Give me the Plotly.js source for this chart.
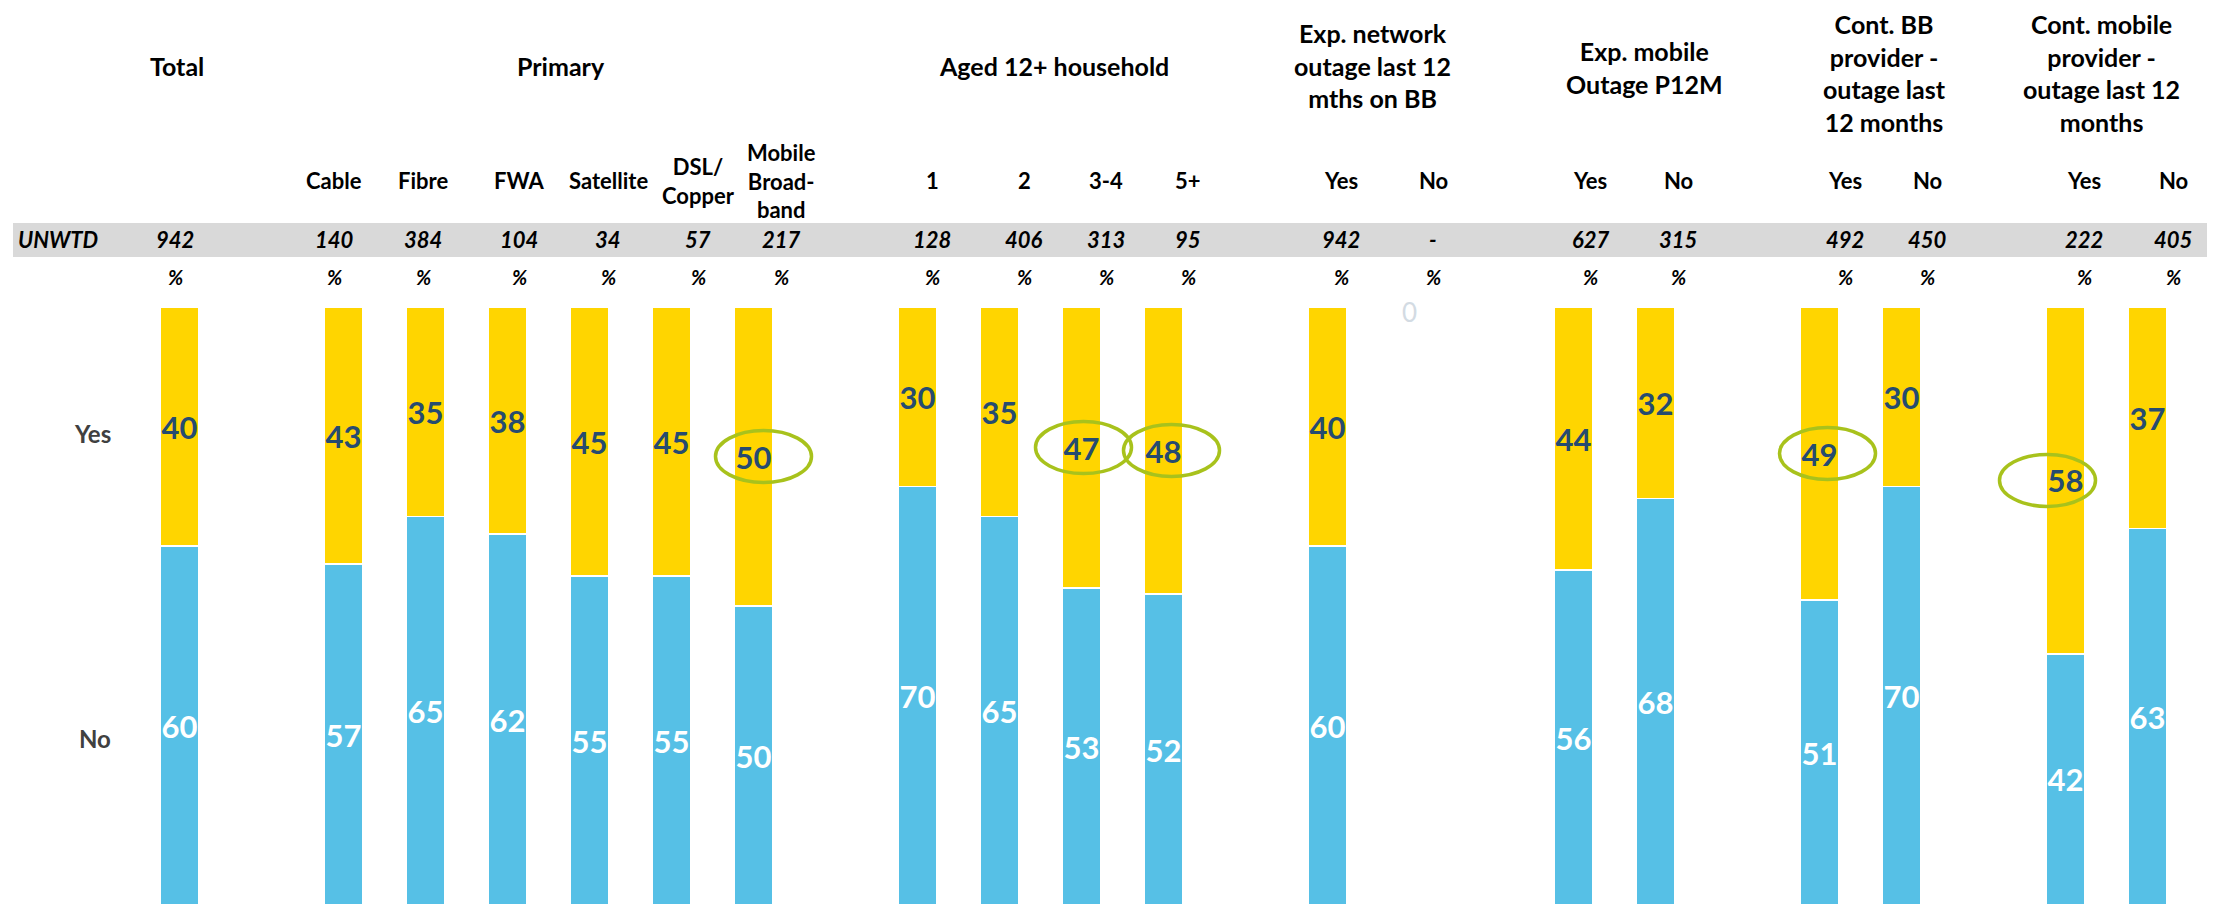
<!DOCTYPE html>
<html>
<head>
<meta charset="utf-8">
<script src="https://cdn.plot.ly/plotly-3.0.1.min.js"></script>
<style>html,body{margin:0;padding:0;background:#fff;}#chart{width:2216px;height:905px;}</style>
</head>
<body>
<div id="chart"></div>
<script>
// ---------------- DATA ----------------
const groupTitles = [
  "Total",
  "Primary",
  "Aged 12+ household",
  "Exp. network<br>outage last 12<br>mths on BB",
  "Exp. mobile<br>Outage P12M",
  "Cont. BB<br>provider -<br>outage last<br>12 months",
  "Cont. mobile<br>provider -<br>outage last 12<br>months"
];
const categories = ["", "Cable", "Fibre", "FWA", "Satellite", "DSL/<br>Copper", "Mobile<br>Broad-<br>band",
  "1", "2", "3-4", "5+", "Yes", "No", "Yes", "No", "Yes", "No", "Yes", "No"];
const groupOf = [0, 1, 1, 1, 1, 1, 1, 2, 2, 2, 2, 3, 3, 4, 4, 5, 5, 6, 6];
const unweighted = ["942", "140", "384", "104", "34", "57", "217", "128", "406", "313", "95",
  "942", "-", "627", "315", "492", "450", "222", "405"];
const yesValues = [40, 43, 35, 38, 45, 45, 50, 30, 35, 47, 48, 40, null, 44, 32, 49, 30, 58, 37];
const noValues  = [60, 57, 65, 62, 55, 55, 50, 70, 65, 53, 52, 60, null, 56, 68, 51, 70, 42, 63];
const highlighted = [0, 0, 0, 0, 0, 0, 1, 0, 0, 1, 1, 0, 0, 0, 0, 1, 0, 1, 0];
const emptyLabel = "0";
const rowLabels = ["Yes", "No"];
const baseLabel = "UNWTD";
const unitLabel = "%";

// ---------------- LAYOUT HELPERS ----------------
const W = 2216, H = 905, TOP = 307;
const SLOT0 = 179.5, STEP = 82;
const px = v => v / W;
const py = v => (H - v) / (H - TOP);
const FONT = "Lato, 'Open Sans', sans-serif";

// slot position of each column: index plus one gap per preceding group
const xs = categories.map((c, i) => i + groupOf[i]);

// header column pixel centres (table is offset from the bars)
const headerX = [175, 334, 423, 519, 608, 698, 781, 932, 1024, 1106, 1188, 1341, 1433, 1590, 1678, 1845, 1927, 2084, 2173];
const groupX = [177, 561, 1054, 1372, 1644, 1884, 2101];
const groupY = [66, 66, 66, 66, 67, 73, 73];
const ellipseDx = [10, 2, 8, 8, -18];

const YELLOW = "#FFD500", BLUE = "#56C0E6", NAVY = "#264B70";

const noTrace = {
  type: "bar", x: xs, y: noValues, name: "No",
  marker: { color: BLUE, line: { color: "#ffffff", width: 1.5 } },
  width: 0.48,
  text: noValues.map(v => v == null ? "" : String(v)),
  textposition: "inside", insidetextanchor: "middle", textangle: 0, constraintext: "none",
  textfont: { family: FONT, size: 31, color: "#ffffff", weight: "bold" },
  hoverinfo: "skip"
};
const yesTrace = {
  type: "bar", x: xs, y: yesValues, name: "Yes",
  marker: { color: YELLOW, line: { color: "#ffffff", width: 1.5 } },
  width: 0.48,
  text: yesValues.map(v => v == null ? "" : String(v)),
  textposition: "inside", insidetextanchor: "middle", textangle: 0, constraintext: "none",
  textfont: { family: FONT, size: 31, color: NAVY, weight: "bold" },
  hoverinfo: "skip"
};

const annotations = [];
const titleFont = { family: FONT, size: 25, color: "#000000", weight: "bold" };
const hdrFont = { family: FONT, size: 22, color: "#000000", weight: "bold" };
groupTitles.forEach((t, g) => {
  annotations.push({ text: t, xref: "paper", yref: "paper", x: px(groupX[g]), y: py(groupY[g]),
    xanchor: "center", yanchor: "middle", showarrow: false, font: titleFont, align: "center" });
});
categories.forEach((c, i) => {
  if (c) annotations.push({ text: c, xref: "paper", yref: "paper", x: px(headerX[i]), y: py(181),
    xanchor: "center", yanchor: "middle", showarrow: false, font: hdrFont, align: "center" });
  annotations.push({ text: unweighted[i], xref: "paper", yref: "paper", x: px(headerX[i]), y: py(240),
    xanchor: "center", yanchor: "middle", showarrow: false,
    font: { family: FONT, size: 22, color: "#000000", weight: "bold", style: "italic" } });
  annotations.push({ text: unitLabel, xref: "paper", yref: "paper", x: px(headerX[i]), y: py(277),
    xanchor: "center", yanchor: "middle", showarrow: false,
    font: { family: FONT, size: 20, color: "#000000", weight: "bold", style: "italic" } });
  if (yesValues[i] == null && noValues[i] == null) {
    annotations.push({ text: emptyLabel, xref: "x", yref: "paper", x: xs[i], y: py(312),
      xanchor: "center", yanchor: "middle", showarrow: false,
      font: { family: FONT, size: 26, color: "#D3DBE3" } });
  }
});
annotations.push({ text: baseLabel, xref: "paper", yref: "paper", x: px(16), y: py(240),
  xanchor: "left", yanchor: "middle", showarrow: false,
  font: { family: FONT, size: 22, color: "#000000", weight: "bold", style: "italic" } });
annotations.push({ text: rowLabels[0], xref: "paper", yref: "paper", x: px(113), y: py(433),
  xanchor: "right", yanchor: "middle", showarrow: false,
  font: { family: FONT, size: 24, color: "#404040", weight: "bold" } });
annotations.push({ text: rowLabels[1], xref: "paper", yref: "paper", x: px(113), y: py(738),
  xanchor: "right", yanchor: "middle", showarrow: false,
  font: { family: FONT, size: 24, color: "#404040", weight: "bold" } });

const shapes = [{
  type: "rect", xref: "paper", yref: "paper", x0: px(13), x1: px(2207), y0: py(257), y1: py(223),
  fillcolor: "#D9D9D9", line: { width: 0 }, layer: "below"
}];
let h = 0;
highlighted.forEach((f, i) => {
  if (!f) return;
  const cy = noValues[i] + yesValues[i] / 2;
  const dx = ellipseDx[h++] || 0;
  shapes.push({ type: "circle", xref: "x", yref: "y", xsizemode: "pixel", ysizemode: "pixel",
    xanchor: xs[i], yanchor: cy, x0: dx - 48, x1: dx + 48, y0: -26, y1: 26,
    line: { color: "#A8C21C", width: 3.5 }, fillcolor: "rgba(0,0,0,0)", layer: "above" });
});

const r0 = -SLOT0 / STEP;
const layout = {
  width: W, height: H,
  margin: { l: 0, r: 0, t: TOP, b: 0, pad: 0 },
  paper_bgcolor: "#ffffff", plot_bgcolor: "#ffffff",
  barmode: "stack", showlegend: false,
  xaxis: { range: [r0, r0 + W / STEP], visible: false, fixedrange: true },
  yaxis: { range: [0, 100], visible: false, fixedrange: true },
  annotations: annotations, shapes: shapes
};
Plotly.newPlot("chart", [noTrace, yesTrace], layout, { staticPlot: true, displayModeBar: false });
</script>
</body>
</html>
